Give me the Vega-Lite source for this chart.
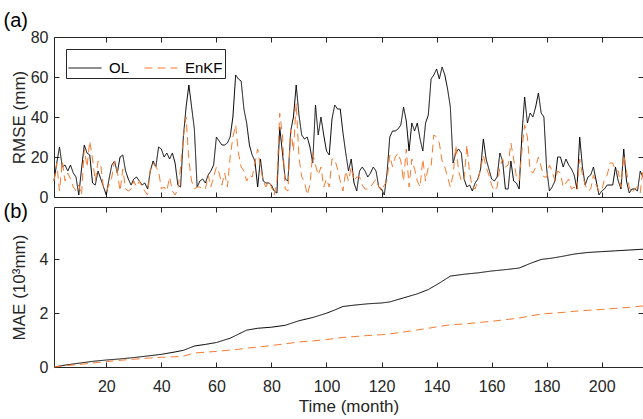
{
  "$schema": "https://vega.github.io/schema/vega-lite/v6.json",
  "padding": {"left": 2, "top": 9, "right": 2, "bottom": 2},
  "spacing": -6,
  "config": {
    "font": "Liberation Sans",
    "view": {"stroke": "#262626", "strokeWidth": 1},
    "axis": {"domain": false, "grid": false, "tickColor": "#262626", "tickSize": -5, "labelColor": "#262626", "labelFontSize": 16, "titleFontSize": 17, "titleFontWeight": "normal", "titleColor": "#262626", "minExtent": 0, "labelPadding": 11, "labelFont": "Liberation Sans", "titleFont": "Liberation Sans"},
    "legend": {"labelFont": "Liberation Sans"}
  },
  "datasets": {
    "rmse": [
      {"month":1,"OL":8,"EnKF":8},{"month":2,"OL":17,"EnKF":17},{"month":3,"OL":25,"EnKF":3},{"month":4,"OL":15,"EnKF":18},{"month":5,"OL":16,"EnKF":8},{"month":6,"OL":13,"EnKF":12},{"month":7,"OL":16,"EnKF":9},{"month":8,"OL":12,"EnKF":5},{"month":9,"OL":10,"EnKF":3},{"month":10,"OL":1,"EnKF":6},
      {"month":11,"OL":14,"EnKF":1},{"month":12,"OL":26,"EnKF":24},{"month":13,"OL":22,"EnKF":15},{"month":14,"OL":21,"EnKF":28},{"month":15,"OL":7,"EnKF":19},{"month":16,"OL":6,"EnKF":8},{"month":17,"OL":13,"EnKF":18},{"month":18,"OL":9,"EnKF":16},{"month":19,"OL":5,"EnKF":4},{"month":20,"OL":1,"EnKF":3},
      {"month":21,"OL":9,"EnKF":6},{"month":22,"OL":16,"EnKF":10},{"month":23,"OL":18,"EnKF":18},{"month":24,"OL":12,"EnKF":13},{"month":25,"OL":20,"EnKF":3},{"month":26,"OL":21,"EnKF":14},{"month":27,"OL":13,"EnKF":4},{"month":28,"OL":9,"EnKF":3},{"month":29,"OL":6,"EnKF":4},{"month":30,"OL":9,"EnKF":8},
      {"month":31,"OL":10,"EnKF":5},{"month":32,"OL":8,"EnKF":8},{"month":33,"OL":6,"EnKF":5},{"month":34,"OL":7,"EnKF":3},{"month":35,"OL":4,"EnKF":1},{"month":36,"OL":13,"EnKF":14},{"month":37,"OL":18,"EnKF":17},{"month":38,"OL":15,"EnKF":15},{"month":39,"OL":25,"EnKF":13},{"month":40,"OL":24,"EnKF":4},
      {"month":41,"OL":20,"EnKF":5},{"month":42,"OL":22,"EnKF":3},{"month":43,"OL":19,"EnKF":10},{"month":44,"OL":22,"EnKF":3},{"month":45,"OL":17,"EnKF":1},{"month":46,"OL":6,"EnKF":4},{"month":47,"OL":5,"EnKF":15},{"month":48,"OL":30,"EnKF":30},{"month":49,"OL":45,"EnKF":40},{"month":50,"OL":56,"EnKF":18},
      {"month":51,"OL":45,"EnKF":8},{"month":52,"OL":34,"EnKF":4},{"month":53,"OL":5,"EnKF":5},{"month":54,"OL":8,"EnKF":5},{"month":55,"OL":9,"EnKF":4},{"month":56,"OL":7,"EnKF":4},{"month":57,"OL":11,"EnKF":11},{"month":58,"OL":13,"EnKF":5},{"month":59,"OL":16,"EnKF":10},{"month":60,"OL":30,"EnKF":15},
      {"month":61,"OL":28,"EnKF":12},{"month":62,"OL":26,"EnKF":6},{"month":63,"OL":26,"EnKF":12},{"month":64,"OL":27,"EnKF":5},{"month":65,"OL":30,"EnKF":20},{"month":66,"OL":40,"EnKF":30},{"month":67,"OL":61,"EnKF":36},{"month":68,"OL":59,"EnKF":22},{"month":69,"OL":58,"EnKF":15},{"month":70,"OL":44,"EnKF":13},
      {"month":71,"OL":37,"EnKF":8},{"month":72,"OL":26,"EnKF":11},{"month":73,"OL":21,"EnKF":10},{"month":74,"OL":18,"EnKF":17},{"month":75,"OL":5,"EnKF":24},{"month":76,"OL":19,"EnKF":15},{"month":77,"OL":8,"EnKF":8},{"month":78,"OL":7,"EnKF":5},{"month":79,"OL":7,"EnKF":8},{"month":80,"OL":6,"EnKF":5},
      {"month":81,"OL":3,"EnKF":1},{"month":82,"OL":2,"EnKF":8},{"month":83,"OL":35,"EnKF":42},{"month":84,"OL":22,"EnKF":31},{"month":85,"OL":9,"EnKF":4},{"month":86,"OL":8,"EnKF":3},{"month":87,"OL":33,"EnKF":34},{"month":88,"OL":40,"EnKF":23},{"month":89,"OL":56,"EnKF":47},{"month":90,"OL":41,"EnKF":20},
      {"month":91,"OL":31,"EnKF":10},{"month":92,"OL":29,"EnKF":8},{"month":93,"OL":30,"EnKF":1},{"month":94,"OL":25,"EnKF":6},{"month":95,"OL":17,"EnKF":22},{"month":96,"OL":46,"EnKF":16},{"month":97,"OL":31,"EnKF":11},{"month":98,"OL":40,"EnKF":15},{"month":99,"OL":31,"EnKF":5},{"month":100,"OL":23,"EnKF":9},
      {"month":101,"OL":21,"EnKF":5},{"month":102,"OL":39,"EnKF":19},{"month":103,"OL":46,"EnKF":19},{"month":104,"OL":44,"EnKF":14},{"month":105,"OL":44,"EnKF":8},{"month":106,"OL":32,"EnKF":3},{"month":107,"OL":22,"EnKF":13},{"month":108,"OL":13,"EnKF":8},{"month":109,"OL":19,"EnKF":15},{"month":110,"OL":7,"EnKF":8},
      {"month":111,"OL":3,"EnKF":10},{"month":112,"OL":13,"EnKF":10},{"month":113,"OL":15,"EnKF":6},{"month":114,"OL":13,"EnKF":4},{"month":115,"OL":10,"EnKF":4},{"month":116,"OL":12,"EnKF":5},{"month":117,"OL":15,"EnKF":7},{"month":118,"OL":13,"EnKF":9},{"month":119,"OL":5,"EnKF":5},{"month":120,"OL":4,"EnKF":3},
      {"month":121,"OL":1,"EnKF":6},{"month":122,"OL":12,"EnKF":8},{"month":123,"OL":30,"EnKF":21},{"month":124,"OL":33,"EnKF":15},{"month":125,"OL":33,"EnKF":20},{"month":126,"OL":34,"EnKF":22},{"month":127,"OL":36,"EnKF":18},{"month":128,"OL":45,"EnKF":8},{"month":129,"OL":38,"EnKF":24},{"month":130,"OL":23,"EnKF":5},
      {"month":131,"OL":37,"EnKF":19},{"month":132,"OL":33,"EnKF":14},{"month":133,"OL":37,"EnKF":8},{"month":134,"OL":29,"EnKF":5},{"month":135,"OL":23,"EnKF":19},{"month":136,"OL":37,"EnKF":8},{"month":137,"OL":41,"EnKF":15},{"month":138,"OL":59,"EnKF":15},{"month":139,"OL":61,"EnKF":31},{"month":140,"OL":64,"EnKF":30},
      {"month":141,"OL":59,"EnKF":27},{"month":142,"OL":65,"EnKF":18},{"month":143,"OL":61,"EnKF":15},{"month":144,"OL":54,"EnKF":10},{"month":145,"OL":45,"EnKF":5},{"month":146,"OL":17,"EnKF":11},{"month":147,"OL":22,"EnKF":26},{"month":148,"OL":24,"EnKF":13},{"month":149,"OL":22,"EnKF":8},{"month":150,"OL":9,"EnKF":8},
      {"month":151,"OL":5,"EnKF":26},{"month":152,"OL":6,"EnKF":12},{"month":153,"OL":3,"EnKF":5},{"month":154,"OL":7,"EnKF":4},{"month":155,"OL":9,"EnKF":8},{"month":156,"OL":14,"EnKF":14},{"month":157,"OL":29,"EnKF":21},{"month":158,"OL":19,"EnKF":15},{"month":159,"OL":14,"EnKF":11},{"month":160,"OL":9,"EnKF":6},
      {"month":161,"OL":8,"EnKF":3},{"month":162,"OL":10,"EnKF":5},{"month":163,"OL":22,"EnKF":15},{"month":164,"OL":18,"EnKF":19},{"month":165,"OL":4,"EnKF":15},{"month":166,"OL":4,"EnKF":16},{"month":167,"OL":18,"EnKF":27},{"month":168,"OL":8,"EnKF":19},{"month":169,"OL":7,"EnKF":10},{"month":170,"OL":4,"EnKF":8},
      {"month":171,"OL":31,"EnKF":23},{"month":172,"OL":50,"EnKF":36},{"month":173,"OL":37,"EnKF":30},{"month":174,"OL":42,"EnKF":13},{"month":175,"OL":40,"EnKF":12},{"month":176,"OL":45,"EnKF":15},{"month":177,"OL":52,"EnKF":20},{"month":178,"OL":42,"EnKF":15},{"month":179,"OL":40,"EnKF":10},{"month":180,"OL":14,"EnKF":10},
      {"month":181,"OL":3,"EnKF":16},{"month":182,"OL":5,"EnKF":13},{"month":183,"OL":8,"EnKF":8},{"month":184,"OL":20,"EnKF":13},{"month":185,"OL":20,"EnKF":12},{"month":186,"OL":15,"EnKF":5},{"month":187,"OL":19,"EnKF":7},{"month":188,"OL":16,"EnKF":9},{"month":189,"OL":14,"EnKF":4},{"month":190,"OL":11,"EnKF":5},
      {"month":191,"OL":4,"EnKF":3},{"month":192,"OL":30,"EnKF":19},{"month":193,"OL":15,"EnKF":11},{"month":194,"OL":6,"EnKF":6},{"month":195,"OL":10,"EnKF":3},{"month":196,"OL":11,"EnKF":4},{"month":197,"OL":15,"EnKF":11},{"month":198,"OL":8,"EnKF":6},{"month":199,"OL":1,"EnKF":3},{"month":200,"OL":3,"EnKF":3},
      {"month":201,"OL":4,"EnKF":9},{"month":202,"OL":6,"EnKF":11},{"month":203,"OL":6,"EnKF":17},{"month":204,"OL":6,"EnKF":17},{"month":205,"OL":15,"EnKF":13},{"month":206,"OL":8,"EnKF":13},{"month":207,"OL":4,"EnKF":5},{"month":208,"OL":24,"EnKF":21},{"month":209,"OL":8,"EnKF":13},{"month":210,"OL":2,"EnKF":5},
      {"month":211,"OL":4,"EnKF":2},{"month":212,"OL":4,"EnKF":4},{"month":213,"OL":3,"EnKF":5},{"month":214,"OL":13,"EnKF":2},{"month":215,"OL":10,"EnKF":14}
    ],
    "mae": [
      {"month":1,"OL":0.00,"EnKF":0.00},{"month":5,"OL":0.07,"EnKF":0.05},{"month":10,"OL":0.14,"EnKF":0.09},{"month":15,"OL":0.21,"EnKF":0.15},{"month":20,"OL":0.26,"EnKF":0.20},
      {"month":25,"OL":0.30,"EnKF":0.25},{"month":30,"OL":0.35,"EnKF":0.29},{"month":35,"OL":0.41,"EnKF":0.33},{"month":40,"OL":0.47,"EnKF":0.36},{"month":45,"OL":0.56,"EnKF":0.38},
      {"month":48,"OL":0.62,"EnKF":0.40},{"month":52,"OL":0.78,"EnKF":0.52},{"month":56,"OL":0.84,"EnKF":0.55},{"month":60,"OL":0.91,"EnKF":0.58},{"month":65,"OL":1.07,"EnKF":0.63},
      {"month":68,"OL":1.22,"EnKF":0.66},{"month":71,"OL":1.37,"EnKF":0.70},{"month":75,"OL":1.44,"EnKF":0.74},{"month":80,"OL":1.48,"EnKF":0.80},{"month":85,"OL":1.55,"EnKF":0.86},
      {"month":90,"OL":1.72,"EnKF":0.93},{"month":95,"OL":1.84,"EnKF":0.97},{"month":100,"OL":2.00,"EnKF":1.02},{"month":103,"OL":2.12,"EnKF":1.06},{"month":106,"OL":2.25,"EnKF":1.10},
      {"month":110,"OL":2.30,"EnKF":1.13},{"month":115,"OL":2.35,"EnKF":1.17},{"month":120,"OL":2.38,"EnKF":1.20},{"month":123,"OL":2.42,"EnKF":1.23},{"month":128,"OL":2.57,"EnKF":1.30},
      {"month":133,"OL":2.72,"EnKF":1.38},{"month":137,"OL":2.88,"EnKF":1.44},{"month":141,"OL":3.12,"EnKF":1.51},{"month":145,"OL":3.38,"EnKF":1.57},{"month":150,"OL":3.45,"EnKF":1.60},
      {"month":155,"OL":3.50,"EnKF":1.65},{"month":160,"OL":3.57,"EnKF":1.70},{"month":165,"OL":3.62,"EnKF":1.76},{"month":170,"OL":3.68,"EnKF":1.82},{"month":174,"OL":3.85,"EnKF":1.90},
      {"month":178,"OL":4.00,"EnKF":1.97},{"month":182,"OL":4.05,"EnKF":2.00},{"month":186,"OL":4.12,"EnKF":2.03},{"month":190,"OL":4.20,"EnKF":2.07},{"month":195,"OL":4.26,"EnKF":2.11},
      {"month":200,"OL":4.29,"EnKF":2.14},{"month":205,"OL":4.32,"EnKF":2.18},{"month":210,"OL":4.35,"EnKF":2.22},{"month":215,"OL":4.38,"EnKF":2.27}
    ]
  },
  "vconcat": [
    {
      "width": 589,
      "height": 160,
      "data": {"name": "rmse"},
      "transform": [{"fold": ["OL", "EnKF"], "as": ["series", "value"]}],
      "layer": [
        {
          "mark": {"type": "line", "strokeWidth": 1},
          "encoding": {
            "x": {"field": "month", "type": "quantitative", "scale": {"domain": [1, 215], "nice": false, "zero": false},
                  "axis": {"orient": "bottom", "values": [20,40,60,80,100,120,140,160,180,200], "labels": false, "title": null}},
            "y": {"field": "value", "type": "quantitative", "scale": {"domain": [0, 80], "nice": false},
                  "axis": {"orient": "left", "values": [0,20,40,60,80], "title": "RMSE (mm)", "titlePadding": 2}},
            "color": {"field": "series", "type": "nominal", "scale": {"domain": ["OL", "EnKF"], "range": ["#000000", "#F77B2F"]},
                      "legend": {"title": null, "orient": "top-left", "offset": 12, "direction": "horizontal", "symbolType": "M-1,0H1", "symbolSize": 1089, "symbolStrokeWidth": 1, "labelFontSize": 15, "labelColor": "#000000", "labelOffset": 7, "columnPadding": 12, "padding": 2, "strokeColor": "#262626", "fillColor": "#ffffff"}},
            "strokeDash": {"field": "series", "type": "nominal", "scale": {"domain": ["OL", "EnKF"], "range": [[1, 0], [8, 5]]},
                      "legend": {"title": null, "orient": "top-left", "offset": 12, "direction": "horizontal", "symbolType": "M-1,0H1", "symbolSize": 1089, "symbolStrokeWidth": 1, "labelFontSize": 15, "labelColor": "#000000", "labelOffset": 7, "columnPadding": 12, "padding": 2, "strokeColor": "#262626", "fillColor": "#ffffff"}}
          }
        },
        {
          "mark": {"type": "line", "opacity": 0},
          "encoding": {
            "x": {"field": "month", "type": "quantitative", "axis": {"orient": "top", "values": [20,40,60,80,100,120,140,160,180,200], "labels": false, "title": "(a)", "titleX": -51, "titleY": -11, "titleAlign": "left", "titleAngle": 0, "titleBaseline": "alphabetic", "titleFontSize": 20, "titleColor": "#000000"}},
            "y": {"field": "value", "type": "quantitative", "axis": {"orient": "right", "values": [0,20,40,60,80], "labels": false, "title": null}},
            "detail": {"field": "series"}
          }
        }
      ],
      "resolve": {"axis": {"x": "independent", "y": "independent"}}
    },
    {
      "width": 589,
      "height": 160,
      "data": {"name": "mae"},
      "transform": [{"fold": ["OL", "EnKF"], "as": ["series", "value"]}],
      "layer": [
        {
          "mark": {"type": "line", "strokeWidth": 1},
          "encoding": {
            "x": {"field": "month", "type": "quantitative", "scale": {"domain": [1, 215], "nice": false, "zero": false},
                  "axis": {"orient": "bottom", "values": [20,40,60,80,100,120,140,160,180,200], "title": "Time (month)", "labelPadding": 16, "titlePadding": 4}},
            "y": {"field": "value", "type": "quantitative", "scale": {"domain": [0, 5.95], "nice": false},
                  "axis": {"orient": "left", "values": [0,2,4], "title": "MAE (10³mm)", "titlePadding": 11}},
            "color": {"field": "series", "type": "nominal", "scale": {"domain": ["OL", "EnKF"], "range": ["#000000", "#F77B2F"]}, "legend": null},
            "strokeDash": {"field": "series", "type": "nominal", "scale": {"domain": ["OL", "EnKF"], "range": [[1, 0], [8, 5]]}, "legend": null}
          }
        },
        {
          "mark": {"type": "line", "opacity": 0},
          "encoding": {
            "x": {"field": "month", "type": "quantitative", "axis": {"orient": "top", "values": [20,40,60,80,100,120,140,160,180,200], "labels": false, "title": "(b)", "titleX": -51, "titleY": 10, "titleAlign": "left", "titleAngle": 0, "titleBaseline": "alphabetic", "titleFontSize": 20, "titleColor": "#000000"}},
            "y": {"field": "value", "type": "quantitative", "axis": {"orient": "right", "values": [0,2,4], "labels": false, "title": null}},
            "detail": {"field": "series"}
          }
        }
      ],
      "resolve": {"axis": {"x": "independent", "y": "independent"}}
    }
  ]
}
